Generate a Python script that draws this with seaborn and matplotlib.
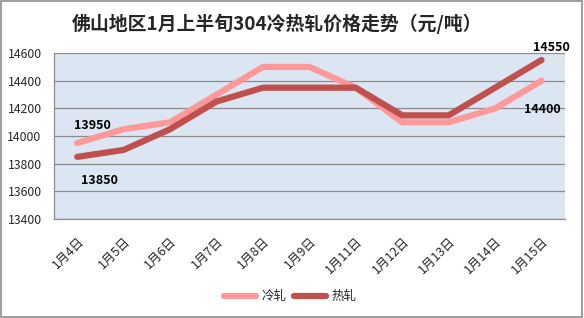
import matplotlib
matplotlib.use("Agg")
import matplotlib.pyplot as plt
import seaborn as sns
import pandas as pd
from matplotlib.patches import Rectangle
from matplotlib.lines import Line2D

dates = ["1月4日", "1月5日", "1月6日", "1月7日", "1月8日", "1月9日",
         "1月11日", "1月12日", "1月13日", "1月14日", "1月15日"]
cold = [13950, 14050, 14100, 14300, 14500, 14500, 14350, 14100, 14100, 14200, 14400]
hot = [13850, 13900, 14050, 14250, 14350, 14350, 14350, 14150, 14150, 14350, 14550]
yticks = [13400, 13600, 13800, 14000, 14200, 14400, 14600]

sns.set_theme(style="white")
plt.rcParams['font.family'] = ['Noto Sans CJK SC', 'DejaVu Sans']

df = pd.DataFrame({
    "date": dates * 2,
    "price": cold + hot,
    "type": ["冷轧"] * len(dates) + ["热轧"] * len(dates),
})
df["x"] = list(range(len(dates))) * 2

fig = plt.figure(figsize=(5.84, 3.18), dpi=100)
ax = fig.add_axes([0.0925, 0.311, 0.8745, 0.522])
ax.set_facecolor("#DCE6F2")

palette = {"冷轧": "#FF9999", "热轧": "#C0504D"}
sns.lineplot(data=df, x="x", y="price", hue="type", palette=palette,
             linewidth=4.5, ax=ax, legend=False, solid_capstyle="round")

ax.set_xlim(-0.5, len(dates) - 0.5)
ax.set_ylim(13400, 14600)
ax.set_yticks(yticks)
ax.set_yticklabels([str(v) for v in yticks], fontsize=8.8)
ax.set_xticks(range(len(dates)))
ax.set_xticklabels(dates, rotation=45, ha="right", va="top", fontsize=9,
                   rotation_mode="anchor")
ax.tick_params(axis="x", pad=11, length=0)
ax.tick_params(axis="y", pad=9, length=0)
ax.grid(axis="y", color="#8C8C8C", linewidth=0.9)
ax.set_axisbelow(True)
for s in ["top", "right"]:
    ax.spines[s].set_visible(False)
for s in ["left", "bottom"]:
    ax.spines[s].set_color("#8C8C8C")
    ax.spines[s].set_linewidth(0.9)
ax.set_xlabel("")
ax.set_ylabel("")

n = len(dates) - 1
kw = dict(textcoords="offset pixels", ha="center", va="center",
          fontsize=9, fontweight="bold", color="black")
ax.annotate(str(cold[0]), (0, cold[0]), xytext=(15, 18), **kw)
ax.annotate(str(hot[0]), (0, hot[0]), xytext=(22, -24), **kw)
ax.annotate(str(hot[n]), (n, hot[n]), xytext=(10, 13), **kw)
ax.annotate(str(cold[n]), (n, cold[n]), xytext=(1, -29), **kw)

fig.text(0.4745, 0.925, "佛山地区1月上半旬304冷热轧价格走势（元/吨）",
         ha="center", va="center", fontsize=13.6, fontweight="bold")

handles = [Line2D([], [], color=palette[k], linewidth=4.5, solid_capstyle="round")
           for k in ["冷轧", "热轧"]]
fig.legend(handles, ["冷轧", "热轧"], loc="center", bbox_to_anchor=(0.497, 0.068),
           ncol=2, frameon=False, fontsize=9, handlelength=2.6,
           columnspacing=0.6, handletextpad=0.4)

fig.patches.append(Rectangle((0.002, 0.003), 0.995, 0.994, transform=fig.transFigure,
                             fill=False, edgecolor="#8C8C8C", linewidth=1.2))

fig.savefig("out.png", dpi=100)
